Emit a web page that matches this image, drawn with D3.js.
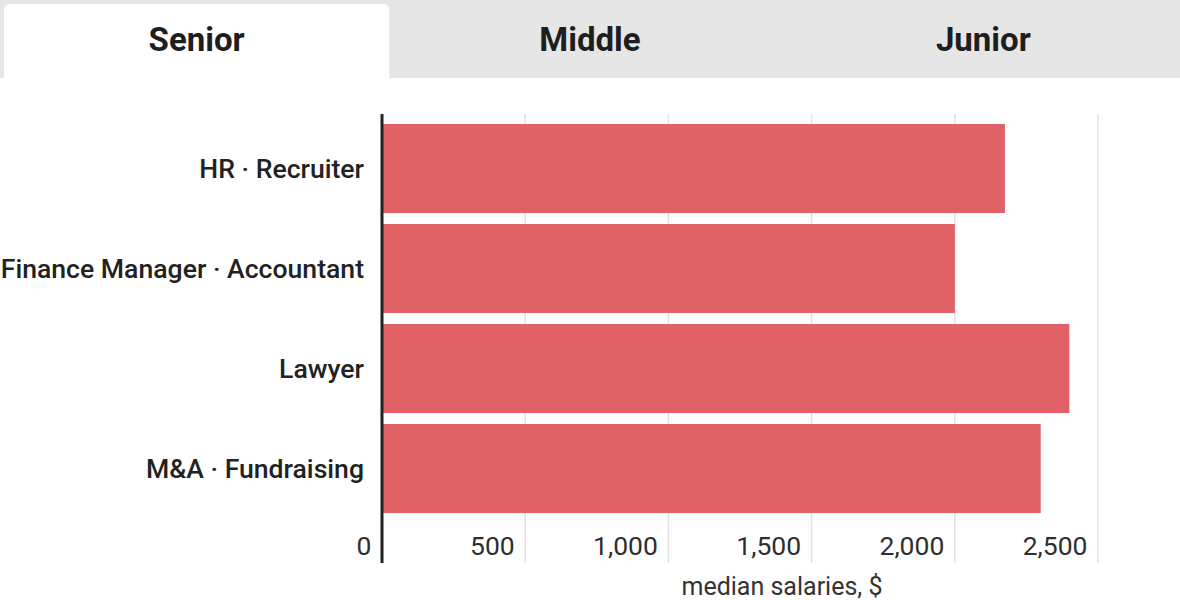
<!DOCTYPE html>
<html>
<head>
<meta charset="utf-8">
<script src="https://cdn.jsdelivr.net/npm/d3@7"></script>
<style>
  html, body { margin: 0; padding: 0; background: #fff; }
  svg { display: block; font-family: Roboto, "Noto Sans", sans-serif; }
</style>
</head>
<body>
<svg id="chart" width="1180" height="600"></svg>
<script>
// Seniority tabs, Senior is the active one
const levels = ["Senior", "Middle", "Junior"];
const activeLevel = "Senior";

// Median salaries by role, USD
const roles = ["HR · Recruiter", "Finance Manager · Accountant", "Lawyer", "M&A · Fundraising"];
const salaries = [2175, 2000, 2400, 2300];

const tickValues = [0, 500, 1000, 1500, 2000, 2500];
const axisTitle = "median salaries, $";

const W = 1180, H = 600;
const svg = d3.select("#chart");

// ---- tab strip ----
const tabH = 78;
svg.append("rect").attr("x", 0).attr("y", 0).attr("width", W).attr("height", tabH).attr("fill", "#e6e6e6");

const tabX = d3.scaleBand().domain(levels).range([0, W]);
const tabs = svg.append("g").selectAll("g").data(levels).join("g");
tabs.filter(d => d === activeLevel)
  .append("path")
  .attr("fill", "#fff")
  .attr("d", d => {
    const x0 = tabX(d) + 4, x1 = tabX(d) + tabX.bandwidth() - 4, y0 = 4, y1 = tabH, r = 6;
    return `M${x0},${y1}V${y0 + r}Q${x0},${y0} ${x0 + r},${y0}H${x1 - r}Q${x1},${y0} ${x1},${y0 + r}V${y1}Z`;
  });
tabs.append("text")
  .attr("x", d => tabX(d) + tabX.bandwidth() / 2)
  .attr("y", 51)
  .attr("text-anchor", "middle")
  .attr("font-size", 33)
  .attr("font-weight", 700)
  .attr("fill", "#1e1e1e")
  .text(d => d);

// ---- bar chart ----
const x = d3.scaleLinear().domain([0, 2500]).range([382, 1098]);
const y = d3.scaleBand().domain(roles).range([118.5, 518.5]).paddingInner(0.11).paddingOuter(0.055);

const gridTop = 114, gridBottom = 563;

// vertical gridlines
svg.append("g").selectAll("line").data(tickValues.filter(v => v > 0)).join("line")
  .attr("x1", d => x(d)).attr("x2", d => x(d))
  .attr("y1", gridTop).attr("y2", gridBottom)
  .attr("stroke", "#e2e2e2").attr("stroke-width", 1.5);

// bars
svg.append("g").selectAll("rect").data(roles).join("rect")
  .attr("x", x(0) + 1)
  .attr("y", d => y(d))
  .attr("width", (d, i) => x(salaries[i]) - x(0) - 1)
  .attr("height", y.bandwidth())
  .attr("fill", "#e06166");

// x tick labels, right-aligned just left of each gridline
const xAxis = d3.axisBottom(x).tickValues(tickValues).tickSize(0).tickFormat(d3.format(","));
const gx = svg.append("g").attr("transform", `translate(0,${gridBottom})`).call(xAxis);
gx.select(".domain").remove();
gx.selectAll("text")
  .attr("x", -11).attr("y", -8).attr("dy", null)
  .attr("text-anchor", "end")
  .attr("font-size", 26.5)
  .attr("font-family", "Roboto, sans-serif")
  .attr("fill", "#2e2e2e");

// y category labels
const yAxis = d3.axisLeft(y).tickSize(0).tickPadding(18);
const gy = svg.append("g").attr("transform", `translate(${x(0)},0)`).call(yAxis);
gy.select(".domain").remove();
gy.selectAll("text")
  .attr("font-size", 26.6)
  .attr("font-weight", 500)
  .attr("font-family", "Roboto, sans-serif")
  .attr("fill", "#222")
  .attr("dy", "0.35em");

// baseline axis line
svg.append("line")
  .attr("x1", x(0)).attr("x2", x(0))
  .attr("y1", gridTop).attr("y2", gridBottom)
  .attr("stroke", "#222").attr("stroke-width", 3);

// axis title
svg.append("text")
  .attr("x", 782).attr("y", 595)
  .attr("text-anchor", "middle")
  .attr("font-size", 25)
  .attr("fill", "#333")
  .text(axisTitle);
</script>
</body>
</html>
